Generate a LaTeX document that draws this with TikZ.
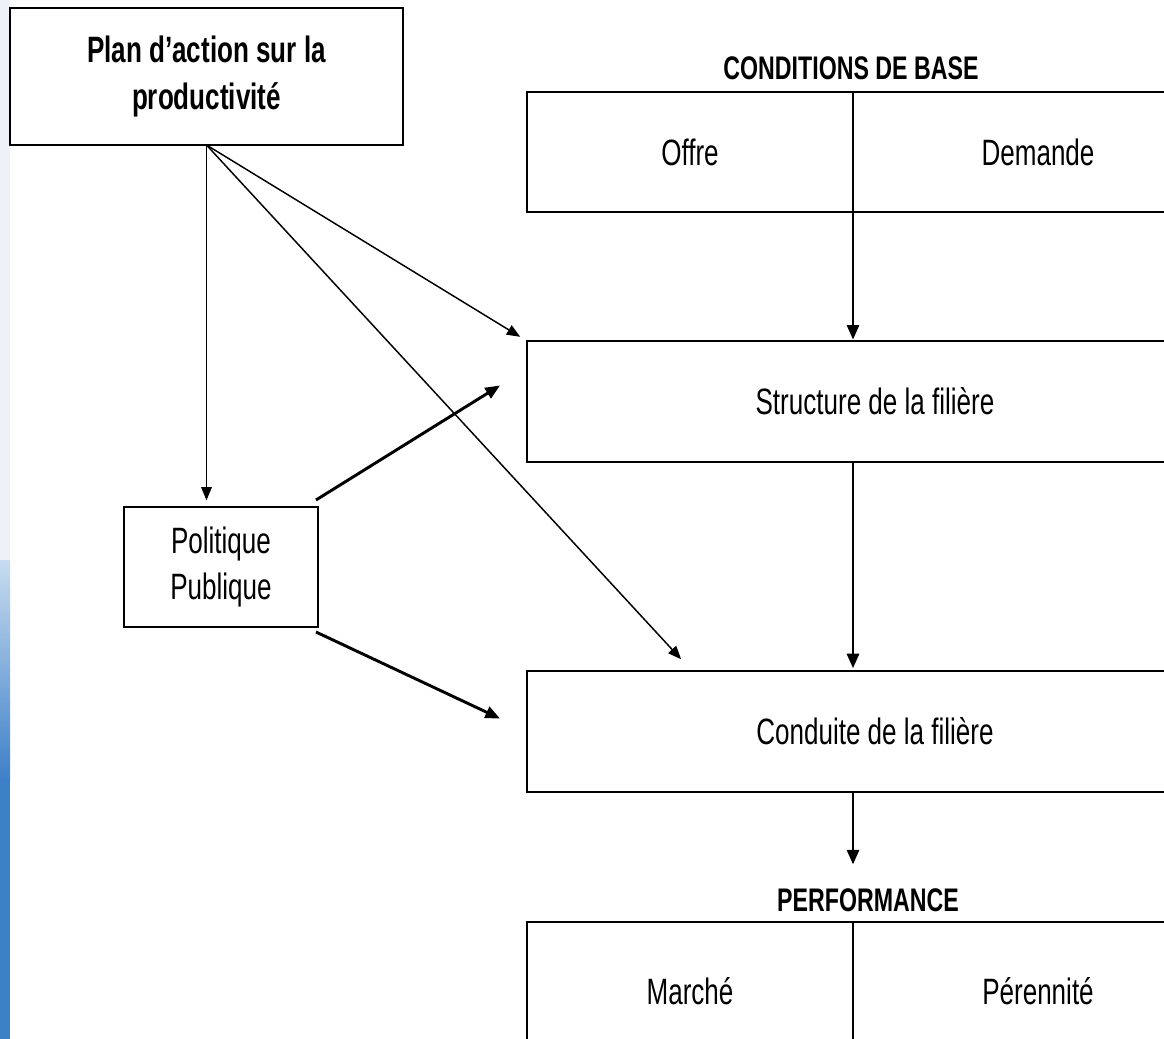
\documentclass[tikz,border=0pt]{standalone}
\usepackage{fontspec}
\setmainfont{Liberation Sans}[FakeStretch=0.71]
\usetikzlibrary{arrows.meta,calc}

\definecolor{bandehaut}{RGB}{238,242,247}
\definecolor{bandemil}{RGB}{200,220,240}
\definecolor{bandebas}{RGB}{62,128,200}

\tikzset{
  cadre/.style={draw, line width=1.4pt, inner sep=0pt, outer sep=0pt, align=center, font=\fontsize{27.5}{35}\selectfont},
  titre/.style={inner sep=0.75pt, font=\bfseries\fontsize{24.5}{28}\selectfont},
  fin/.style={line width=1.1pt, -{Triangle[length=10pt,width=8pt]}},
  gras/.style={line width=2.2pt, -{Triangle[length=11pt,width=9pt]}},
}

\begin{document}
\begin{tikzpicture}[x=0.75pt,y=0.75pt,yscale=-1,xscale=1]
\clip (0,0) rectangle (1164,1039);

%Shape: bande a gauche
\fill [bandehaut] (0,0) rectangle (10,560);
\shade [top color=bandemil, bottom color=bandebas] (0,560) rectangle (10,780);
\fill [bandebas] (0,780) rectangle (10,1039);

%Shape: Rectangle [plan]
\node (plan) [cadre, minimum width=294.75pt, minimum height=102.75pt, font=\bfseries\fontsize{27.5}{35}\selectfont] at (206.5,76.5) {Plan d’action sur la\\productivité};
%Shape: Rectangle [pol]
\node (pol) [cadre, minimum width=145.5pt, minimum height=90pt] at (221,567) {Politique\\Publique};

% Text Node
\node (base) [titre] at (851,68) {CONDITIONS DE BASE};
%Shape: Rectangle [offre | demande]
\node (offre) [cadre, minimum width=244.5pt, minimum height=90pt] at (690,152) {Offre};
\node (demande) [cadre, minimum width=277.5pt, minimum height=90pt, anchor=west] at (offre.east) {Demande};

%Shape: Rectangle [struct]
\node (struct) [cadre, minimum width=522pt, minimum height=90.75pt] at (875,401.5) {Structure de la filière};
%Shape: Rectangle [cond]
\node (cond) [cadre, minimum width=522pt, minimum height=90.75pt] at (875,731.5) {Conduite de la filière};

% Text Node
\node (perf) [titre] at (868,900) {PERFORMANCE};
%Shape: Rectangle [marche | perenn]
\node (marche) [cadre, minimum width=244.5pt, minimum height=103.5pt] at (690,991) {Marché};
\node (perenn) [cadre, minimum width=277.5pt, minimum height=103.5pt, anchor=west] at (marche.east) {Pérennité};

%Straight Lines [plan -> ...]
\draw [fin, shorten >=5pt] (plan.south) -- (plan.south |- pol.north);
\draw [fin, shorten >=6pt] (plan.south) -- (struct.north west);
\draw [fin, shorten >=12pt] (plan.south) -- ($(cond.north west)+(165,0)$);

%Straight Lines [pol -> ...]
\draw [gras] ($(pol.north east)+(-2,-7)$) -- ($(struct.west)+(-27,-16)$);
\draw [gras] ($(pol.south east)+(-2,5)$) -- ($(cond.west)+(-27,-13)$);

%Straight Lines [colonne]
\draw [gras, shorten >=1pt] (offre.south east) -- (offre.south east |- struct.north);
\draw [gras, shorten >=2pt] (struct.south -| offre.south east) -- (offre.south east |- cond.north);
\draw [gras, shorten >=17pt] (cond.south -| offre.south east) -- (offre.south east |- perf.north);

\end{tikzpicture}
\end{document}
